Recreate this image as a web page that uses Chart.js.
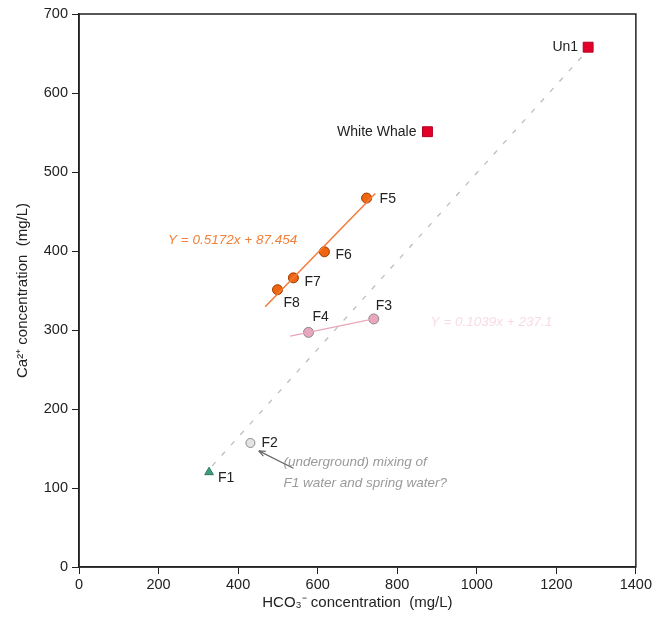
<!DOCTYPE html>
<html>
<head>
<meta charset="utf-8">
<script src="https://cdn.jsdelivr.net/npm/chart.js@4.4.1/dist/chart.umd.min.js"></script>
<style>
html,body{margin:0;padding:0;background:#fff;}
#wrap{width:654px;height:629px;position:relative;}
</style>
</head>
<body>
<div id="wrap"><canvas id="c" width="654" height="629"></canvas></div>
<script>
// ---- data ----
const xTicks = [0, 200, 400, 600, 800, 1000, 1200, 1400];
const yTicks = [0, 100, 200, 300, 400, 500, 600, 700];

const redNames = ["Un1", "White Whale"];
const redX = [1280, 876];
const redY = [658, 551];

const orangeNames = ["F5", "F6", "F7", "F8"];
const orangeX = [723, 617, 539, 499];
const orangeY = [467, 399, 366, 351];

const pinkNames = ["F3", "F4"];
const pinkX = [741, 577];
const pinkY = [314, 297];

const greyNames = ["F2"];
const greyX = [431];
const greyY = [157];

const greenNames = ["F1"];
const greenX = [327];
const greenY = [120];

const orangeFitSlope = 0.5172, orangeFitIntercept = 87.454;
const orangeFitX = [468, 745];
const pinkFitSlope = 0.1039, pinkFitIntercept = 237.1;
const pinkFitX = [531, 741];
const mixLineX = [335, 1275];
const mixLineY = [128, 652];

const orangeEq = "Y = 0.5172x + 87.454";
const pinkEq = "Y = 0.1039x + 237.1";
const noteLines = ["(underground) mixing of", "F1 water and spring water?"];

// ---- build ----
const pts = (xs, ys) => xs.map((x, i) => ({x: x, y: ys[i]}));
const fit = (xs, m, b) => xs.map(x => ({x: x, y: m * x + b}));

const labelOffsets = {
  "Un1": [-10, 0, "right"], "White Whale": [-11, 0, "right"],
  "F5": [13, 1, "left"], "F6": [11, 3, "left"], "F7": [11, 4, "left"], "F8": [6, 13, "left"],
  "F4": [4, -15, "left"], "F3": [2, -13, "left"], "F2": [11, 0, "left"], "F1": [9, 6, "left"]
};

const FONT = '"Liberation Sans", Arial, sans-serif';

const framePlugin = {
  id: 'frame',
  afterDatasetsDraw(chart) {
    const ctx = chart.ctx, a = chart.chartArea;
    const xs = chart.scales.x, ys = chart.scales.y;
    ctx.save();
    // labels for points
    ctx.font = '14px ' + FONT;
    ctx.fillStyle = '#222';
    ctx.textBaseline = 'middle';
    chart.data.datasets.forEach((ds, di) => {
      if (!ds.names) return;
      const meta = chart.getDatasetMeta(di);
      meta.data.forEach((el, i) => {
        const n = ds.names[i];
        const o = labelOffsets[n] || [8, 0, "left"];
        ctx.textAlign = o[2];
        ctx.fillText(n, el.x + o[0], el.y + o[1]);
      });
    });
    // orange equation
    ctx.font = 'italic 13.5px ' + FONT;
    ctx.fillStyle = '#f0803a';
    ctx.textAlign = 'left';
    ctx.fillText(orangeEq, xs.getPixelForValue(224), ys.getPixelForValue(414));
    // faded pink equation
    ctx.fillStyle = 'rgba(232,150,175,0.35)';
    ctx.fillText(pinkEq, xs.getPixelForValue(884), ys.getPixelForValue(310));
    // note
    ctx.fillStyle = '#9a9a9a';
    ctx.fillText(noteLines[0], xs.getPixelForValue(514), ys.getPixelForValue(132));
    ctx.fillText(noteLines[1], xs.getPixelForValue(514), ys.getPixelForValue(106));
    // arrow
    const x1 = xs.getPixelForValue(539), y1 = ys.getPixelForValue(125);
    const x2 = xs.getPixelForValue(452), y2 = ys.getPixelForValue(147);
    ctx.strokeStyle = '#666'; ctx.lineWidth = 1.2;
    ctx.beginPath(); ctx.moveTo(x1, y1); ctx.lineTo(x2, y2); ctx.stroke();
    const ang = Math.atan2(y2 - y1, x2 - x1);
    ctx.beginPath();
    ctx.moveTo(x2, y2);
    ctx.lineTo(x2 - 7 * Math.cos(ang - 0.4), y2 - 7 * Math.sin(ang - 0.4));
    ctx.moveTo(x2, y2);
    ctx.lineTo(x2 - 7 * Math.cos(ang + 0.4), y2 - 7 * Math.sin(ang + 0.4));
    ctx.stroke();
    // frame
    ctx.strokeStyle = '#222'; ctx.lineWidth = 1.5;
    ctx.strokeRect(a.left, a.top, a.right - a.left, a.bottom - a.top);
    ctx.restore();
  }
};

new Chart(document.getElementById('c'), {
  type: 'scatter',
  data: {
    datasets: [
      {type: 'line', data: pts(mixLineX, mixLineY), borderColor: '#bdbdbd', borderWidth: 1.3,
       borderDash: [5, 9], pointRadius: 0, fill: false},
      {type: 'line', data: fit(orangeFitX, orangeFitSlope, orangeFitIntercept), borderColor: '#f47a3a',
       borderWidth: 1.5, pointRadius: 0, fill: false},
      {type: 'line', data: fit(pinkFitX, pinkFitSlope, pinkFitIntercept), borderColor: '#e8a8b8',
       borderWidth: 1.3, pointRadius: 0, fill: false},
      {data: pts(redX, redY), names: redNames, pointStyle: 'rect', pointRadius: 7,
       backgroundColor: '#e2002a', borderColor: '#b00020', borderWidth: 1},
      {data: pts(orangeX, orangeY), names: orangeNames, pointStyle: 'circle', pointRadius: 5,
       backgroundColor: '#ef6510', borderColor: '#9a3a00', borderWidth: 1},
      {data: pts(pinkX, pinkY), names: pinkNames, pointStyle: 'circle', pointRadius: 5,
       backgroundColor: '#eaa6c0', borderColor: '#8a8a8a', borderWidth: 1},
      {data: pts(greyX, greyY), names: greyNames, pointStyle: 'circle', pointRadius: 4.5,
       backgroundColor: '#e4e4e4', borderColor: '#8a8a8a', borderWidth: 1},
      {data: pts(greenX, greenY), names: greenNames, pointStyle: 'triangle', pointRadius: 5,
       backgroundColor: '#3f9e78', borderColor: '#2c7a5a', borderWidth: 1}
    ]
  },
  options: {
    responsive: false,
    animation: false,
    events: [],
    layout: {padding: {left: 0, top: 14, right: 17, bottom: 0}},
    plugins: {legend: {display: false}, tooltip: {enabled: false}},
    scales: {
      x: {
        type: 'linear', min: 0, max: 1400,
        afterBuildTicks: s => { s.ticks = xTicks.map(v => ({value: v})); },
        afterFit: s => { s.height = 62; },
        grid: {display: true, drawOnChartArea: false, drawTicks: true, tickLength: 7, color: '#222', lineWidth: 1},
        border: {display: true, color: '#222', width: 1.5},
        ticks: {color: '#222', font: {size: 14.5, family: FONT}, padding: 2, maxRotation: 0,
                callback: v => String(v)},
        title: {display: true, text: 'HCO\u2083\u207B concentration  (mg/L)', color: '#222',
                font: {size: 15, family: FONT}, padding: {top: 0, bottom: 17}}
      },
      y: {
        type: 'linear', min: 0, max: 700,
        afterBuildTicks: s => { s.ticks = yTicks.map(v => ({value: v})); },
        afterFit: s => { s.width = 79; },
        grid: {display: true, drawOnChartArea: false, drawTicks: true, tickLength: 7, color: '#222', lineWidth: 1},
        border: {display: true, color: '#222', width: 1.5},
        ticks: {color: '#222', font: {size: 14.5, family: FONT}, padding: 4,
                callback: v => String(v)},
        title: {display: true, text: 'Ca\u00B2\u207A concentration  (mg/L)', color: '#222',
                font: {size: 15, family: FONT}, padding: {top: 14, bottom: 0}}
      }
    }
  },
  plugins: [framePlugin]
});
</script>
</body>
</html>
